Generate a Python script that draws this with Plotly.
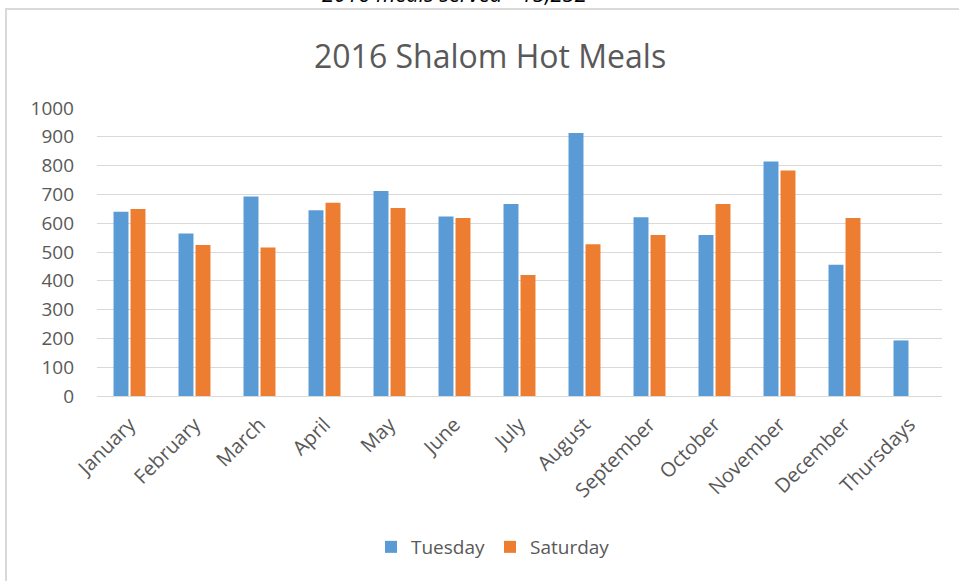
import plotly.graph_objects as go

categories = ["January", "February", "March", "April", "May", "June", "July",
              "August", "September", "October", "November", "December", "Thursdays"]
tuesday = [640, 564, 693, 645, 712, 623, 667, 913, 621, 559, 814, 456, 193]
saturday = [649, 524, 516, 671, 653, 618, 420, 527, 559, 667, 783, 618, None]
y_ticks = [0, 100, 200, 300, 400, 500, 600, 700, 800, 900, 1000]

FONT = "Open Sans, sans-serif"
GRAY = "#595959"

fig = go.Figure()
fig.add_trace(go.Bar(name="Tuesday", x=categories, y=tuesday, marker_color="#5B9BD5",
                     marker_line_width=0))
fig.add_trace(go.Bar(name="Saturday", x=categories, y=saturday, marker_color="#ED7D31",
                     marker_line_width=0))

L, R, T, B = 97, 17, 108, 185
W, H = 959, 581
pw, ph = W - L - R, H - T - B


def px_x(p):
    return (p - L) / pw


def px_y(p):
    return (H - B - p) / ph


fig.update_layout(
    width=W, height=H,
    margin=dict(l=L, r=R, t=T, b=B, pad=0),
    paper_bgcolor="white", plot_bgcolor="white",
    barmode="group", bargap=0.477, bargroupgap=0.12,
    font=dict(family=FONT, color=GRAY),
    showlegend=True,
    legend=dict(orientation="h", x=px_x(493), xanchor="center", y=px_y(547), yanchor="middle",
                font=dict(size=19, color=GRAY, family=FONT), traceorder="normal"),
    xaxis=dict(tickangle=-45, tickfont=dict(size=20, color=GRAY, family=FONT),
               showline=False, ticks="", showgrid=False, ticklabelstandoff=12),
    yaxis=dict(range=[0, 1000], tickvals=y_ticks, showgrid=True, gridcolor="#D9D9D9",
               gridwidth=1, zeroline=True, zerolinecolor="#D9D9D9", zerolinewidth=1,
               tickfont=dict(size=19, color=GRAY, family=FONT), ticks="",
               showline=False, ticklabelstandoff=22),
    annotations=[
        dict(text="2016 Shalom Hot Meals", xref="paper", yref="paper", x=px_x(490), y=px_y(55),
             xanchor="center", yanchor="middle", showarrow=False,
             font=dict(size=32, color=GRAY, family=FONT)),
        dict(text="<i>2016 meals served - 15,252</i>", xref="paper", yref="paper",
             x=px_x(454), y=px_y(-7), xanchor="center", yanchor="middle", showarrow=False,
             font=dict(size=22, color="black", family=FONT)),
    ],
    shapes=[
        dict(type="rect", xref="paper", yref="paper", x0=px_x(6), x1=px_x(975),
             y0=px_y(600), y1=px_y(9), line=dict(color="#D9D9D9", width=2), layer="below"),
    ],
)

fig.write_html("out.html", config={"displayModeBar": False},
               post_script="document.body.style.margin='0px';")
